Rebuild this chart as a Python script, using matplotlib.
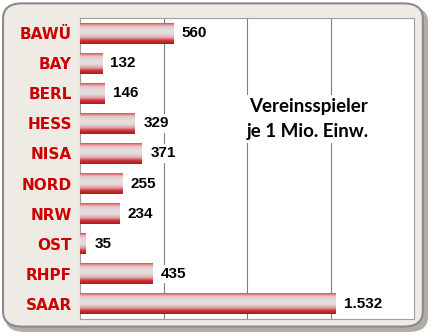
import matplotlib
matplotlib.use("Agg")
import matplotlib.pyplot as plt
import numpy as np
from matplotlib.patches import FancyBboxPatch
from matplotlib.colors import LinearSegmentedColormap

laender = ["BAWÜ", "BAY", "BERL", "HESS", "NISA", "NORD", "NRW", "OST", "RHPF", "SAAR"]
spieler = [560, 132, 146, 329, 371, 255, 234, 35, 435, 1532]
beschriftung = ["560", "132", "146", "329", "371", "255", "234", "35", "435", "1.532"]

fig = plt.figure(figsize=(4.35, 3.36), dpi=100)

# rounded frame with shadow
shadow = FancyBboxPatch((0.012, 0.012), 0.972, 0.968, boxstyle="round,pad=0,rounding_size=0.045",
                        transform=fig.transFigure, facecolor="#b0aca6", edgecolor="none", zorder=0)
frame = FancyBboxPatch((0.007, 0.028), 0.965, 0.962, boxstyle="round,pad=0,rounding_size=0.045",
                       transform=fig.transFigure, facecolor="#eeebe4", edgecolor="#8a8a8a",
                       linewidth=1.5, zorder=1)
fig.patches.extend([shadow, frame])

ax = fig.add_axes([0.184, 0.051, 0.768, 0.895])
ax.set_facecolor("white")
ax.set_zorder(2)

y = np.arange(len(laender))
bars = ax.barh(y, spieler, height=0.7, color="#cc2030", zorder=2)

cmap = LinearSegmentedColormap.from_list("bar", [
    (0.0, "#c8202c"), (0.08, "#e07078"), (0.2, "#e8c8ca"), (0.4, "#e0e0e0"),
    (0.55, "#e4dcdc"), (0.72, "#e0a0a4"), (0.85, "#cc3038"), (1.0, "#b01820")])
grad = np.linspace(0, 1, 64).reshape(-1, 1)
for b in bars:
    x0, y0 = b.get_x(), b.get_y()
    w, h = b.get_width(), b.get_height()
    im = ax.imshow(grad, cmap=cmap, aspect="auto", extent=(x0, x0 + w, y0 + h, y0),
                   zorder=3, interpolation="bilinear")
    im.set_clip_path(b)

for yi, v, t in zip(y, spieler, beschriftung):
    ax.annotate(t, (v, yi), xytext=(6, 0), textcoords="offset points", va="center", ha="left",
                fontsize=11, fontweight="bold", family="Liberation Sans", color="black", zorder=5,
                bbox=dict(facecolor="white", edgecolor="none", pad=1.5))

ax.text(1365, 2.85, "Vereinsspieler\nje 1 Mio. Einw.", ha="center", va="center", fontsize=13.5,
        fontweight="bold", family="Lato", linespacing=1.55, zorder=5,
        bbox=dict(facecolor="white", edgecolor="none", pad=2))

ax.set_xlim(0, 2000)
ax.set_ylim(len(laender) - 0.5, -0.5)
ax.set_xticks([500, 1000, 1500])
ax.set_xticklabels([])
ax.tick_params(axis="x", length=0)
ax.tick_params(axis="y", length=0, pad=6)
ax.set_yticks(y)
ax.set_yticklabels(laender, fontsize=11, fontweight="bold", family="DejaVu Sans", color="#cc0000")
ax.grid(axis="x", color="#808080", linewidth=0.8, zorder=1)
ax.set_axisbelow(True)
for s in ax.spines.values():
    s.set_color("#a0a0a0")
    s.set_linewidth(0.8)

fig.savefig("out.png", dpi=100)
